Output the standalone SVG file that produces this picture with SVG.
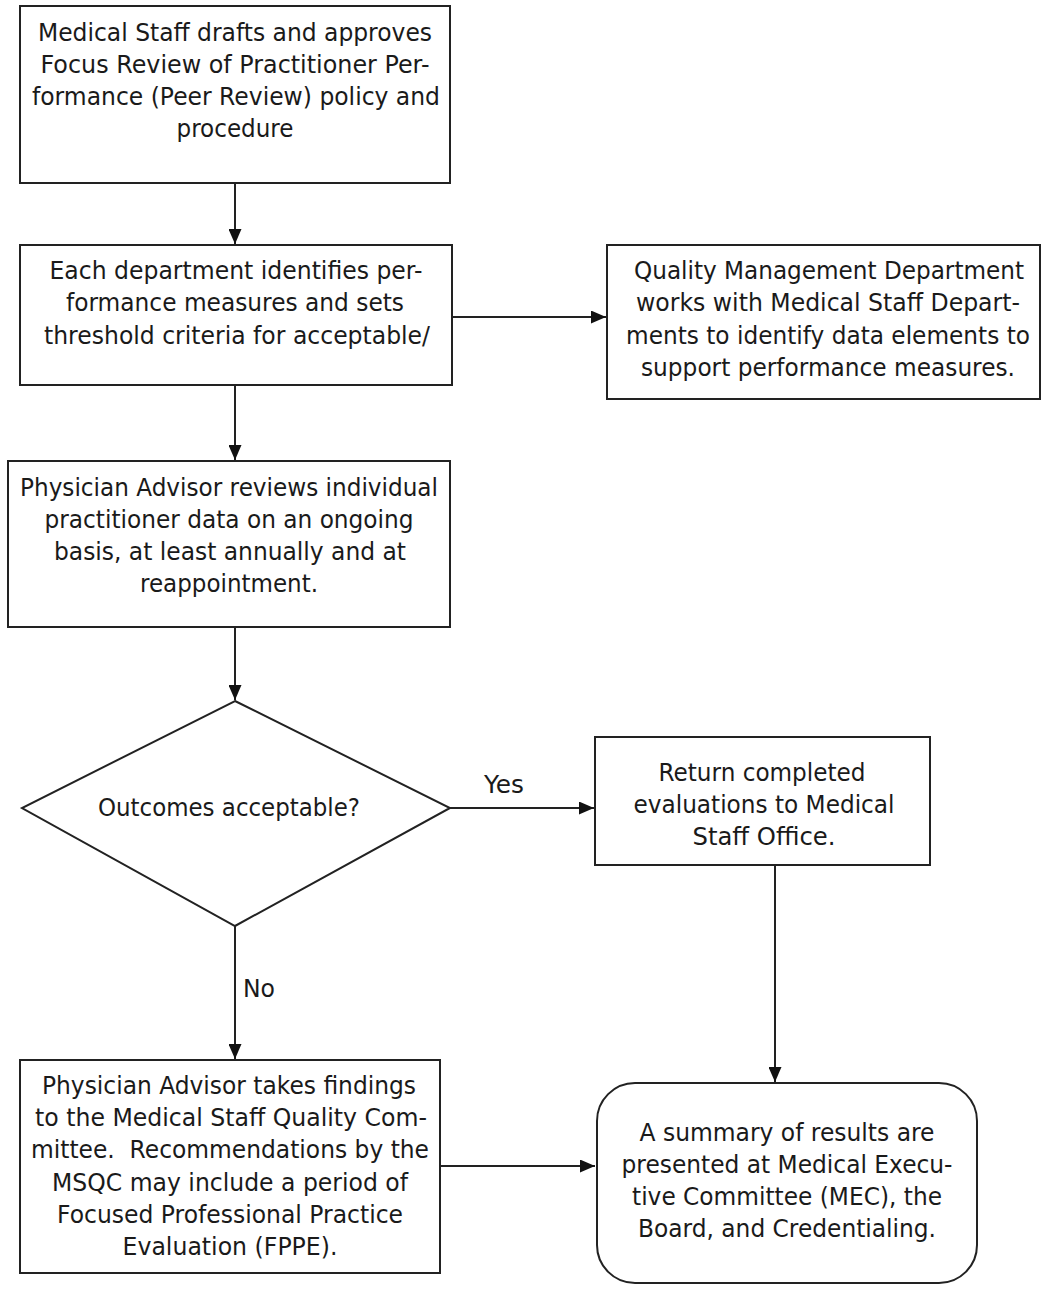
<svg xmlns="http://www.w3.org/2000/svg" width="1055" height="1289" viewBox="0 0 1055 1289">
<style>
.box{fill:#fff;stroke:#222;stroke-width:2}
.t{font-family:"DejaVu Sans",Verdana,sans-serif;font-size:24px;fill:#1a1a1a;text-anchor:middle}
.c{fill:none;stroke:#222;stroke-width:2}
</style>
<defs>
<marker id="ah" viewBox="0 0 15 13" refX="15" refY="6.5" markerWidth="15" markerHeight="13" markerUnits="userSpaceOnUse" orient="auto">
<path d="M0,0 L15,6.5 L0,13 z" fill="#111"/>
</marker>
</defs>
<rect width="1055" height="1289" fill="#fff"/>
<g id="connectors">
<line class="c" x1="235" y1="183" x2="235" y2="244" marker-end="url(#ah)"/>
<line class="c" x1="452" y1="317" x2="606" y2="317" marker-end="url(#ah)"/>
<line class="c" x1="235" y1="385" x2="235" y2="460" marker-end="url(#ah)"/>
<line class="c" x1="235" y1="627" x2="235" y2="700" marker-end="url(#ah)"/>
<line class="c" x1="450" y1="808" x2="594" y2="808" marker-end="url(#ah)"/>
<line class="c" x1="235" y1="926" x2="235" y2="1059" marker-end="url(#ah)"/>
<line class="c" x1="775" y1="865" x2="775" y2="1082" marker-end="url(#ah)"/>
<line class="c" x1="440" y1="1166" x2="595" y2="1166" marker-end="url(#ah)"/>
<text class="t" x="504" y="793" textLength="40" lengthAdjust="spacingAndGlyphs">Yes</text>
<text class="t" x="259" y="997" textLength="32" lengthAdjust="spacingAndGlyphs">No</text>
</g>
<g id="n1">
<rect class="box" x="20" y="6" width="430" height="177"/>
<text class="t" x="235" y="41" textLength="394" lengthAdjust="spacingAndGlyphs">Medical Staff drafts and approves</text>
<text class="t" x="235" y="73" textLength="389" lengthAdjust="spacingAndGlyphs">Focus Review of Practitioner Per-</text>
<text class="t" x="236" y="105" textLength="408" lengthAdjust="spacingAndGlyphs">formance (Peer Review) policy and</text>
<text class="t" x="235" y="137" textLength="117" lengthAdjust="spacingAndGlyphs">procedure</text>
</g>
<g id="n2">
<rect class="box" x="20" y="245" width="432" height="140"/>
<text class="t" x="236" y="279" textLength="373" lengthAdjust="spacingAndGlyphs">Each department identifies per-</text>
<text class="t" x="235" y="311" textLength="338" lengthAdjust="spacingAndGlyphs">formance measures and sets</text>
<text class="t" x="237" y="344" textLength="386" lengthAdjust="spacingAndGlyphs">threshold criteria for acceptable/</text>
</g>
<g id="n3">
<rect class="box" x="607" y="245" width="433" height="154"/>
<text class="t" x="829" y="279" textLength="390" lengthAdjust="spacingAndGlyphs">Quality Management Department</text>
<text class="t" x="828" y="311" textLength="384" lengthAdjust="spacingAndGlyphs">works with Medical Staff Depart-</text>
<text class="t" x="828" y="344" textLength="404" lengthAdjust="spacingAndGlyphs">ments to identify data elements to</text>
<text class="t" x="828" y="376" textLength="374" lengthAdjust="spacingAndGlyphs">support performance measures.</text>
</g>
<g id="n4">
<rect class="box" x="8" y="461" width="442" height="166"/>
<text class="t" x="229" y="496" textLength="418" lengthAdjust="spacingAndGlyphs">Physician Advisor reviews individual</text>
<text class="t" x="229" y="528" textLength="369" lengthAdjust="spacingAndGlyphs">practitioner data on an ongoing</text>
<text class="t" x="230" y="560" textLength="352" lengthAdjust="spacingAndGlyphs">basis, at least annually and at</text>
<text class="t" x="229" y="592" textLength="178" lengthAdjust="spacingAndGlyphs">reappointment.</text>
</g>
<g id="n5">
<polygon class="box" points="235,701 450,808 235,926 22,808"/>
<text class="t" x="229" y="816" textLength="262" lengthAdjust="spacingAndGlyphs">Outcomes acceptable?</text>
</g>
<g id="n6">
<rect class="box" x="595" y="737" width="335" height="128"/>
<text class="t" x="762" y="781" textLength="207" lengthAdjust="spacingAndGlyphs">Return completed</text>
<text class="t" x="764" y="813" textLength="261" lengthAdjust="spacingAndGlyphs">evaluations to Medical</text>
<text class="t" x="764" y="845" textLength="143" lengthAdjust="spacingAndGlyphs">Staff Office.</text>
</g>
<g id="n7">
<rect class="box" x="20" y="1060" width="420" height="213"/>
<text class="t" x="229" y="1094" textLength="374" lengthAdjust="spacingAndGlyphs">Physician Advisor takes findings</text>
<text class="t" x="231" y="1126" textLength="392" lengthAdjust="spacingAndGlyphs">to the Medical Staff Quality Com-</text>
<text class="t" x="230" y="1158" textLength="398" lengthAdjust="spacingAndGlyphs" xml:space="preserve" style="white-space:pre">mittee.  Recommendations by the</text>
<text class="t" x="230" y="1191" textLength="356" lengthAdjust="spacingAndGlyphs">MSQC may include a period of</text>
<text class="t" x="230" y="1223" textLength="346" lengthAdjust="spacingAndGlyphs">Focused Professional Practice</text>
<text class="t" x="230" y="1255" textLength="215" lengthAdjust="spacingAndGlyphs">Evaluation (FPPE).</text>
</g>
<g id="n8">
<rect class="box" x="597" y="1083" width="380" height="200" rx="38" ry="38"/>
<text class="t" x="787" y="1141" textLength="295" lengthAdjust="spacingAndGlyphs">A summary of results are</text>
<text class="t" x="787" y="1173" textLength="331" lengthAdjust="spacingAndGlyphs">presented at Medical Execu-</text>
<text class="t" x="787" y="1205" textLength="310" lengthAdjust="spacingAndGlyphs">tive Committee (MEC), the</text>
<text class="t" x="787" y="1237" textLength="298" lengthAdjust="spacingAndGlyphs">Board, and Credentialing.</text>
</g>
</svg>
